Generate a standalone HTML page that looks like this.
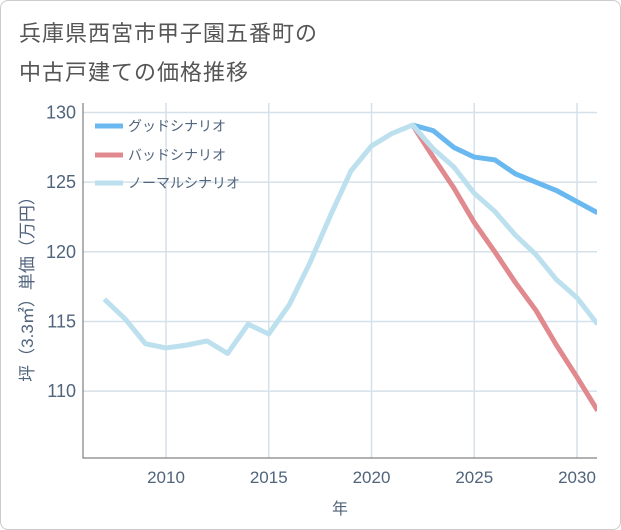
<!DOCTYPE html>
<html><head><meta charset="utf-8"><style>
body{margin:0;background:#fff;font-family:"Liberation Sans","Noto Sans CJK JP",sans-serif;}
#wrap{position:relative;width:619px;height:528px;border:1px solid #ccc;border-radius:8px;overflow:hidden;}
.t{position:absolute;left:18px;font-size:22px;color:#555;letter-spacing:1px;}
</style></head><body>
<div id="wrap">
<div class="t" style="top:15px">兵庫県西宮市甲子園五番町の</div>
<div class="t" style="top:54px">中古戸建ての価格推移</div>
<svg id="svg" width="621" height="530" style="position:absolute;left:-1px;top:-1px"></svg>
</div>
<script>
const years=[2007,2008,2009,2010,2011,2012,2013,2014,2015,2016,2017,2018,2019,2020,2021,2022,2023,2024,2025,2026,2027,2028,2029,2030,2031];
const normal=[116.6,115.2,113.4,113.1,113.3,113.6,112.7,114.8,114.1,116.2,119.2,122.6,125.8,127.6,128.5,129.1,127.4,126.1,124.2,122.9,121.2,119.8,118.0,116.7,114.8];
const goodYears=[2022,2023,2024,2025,2026,2027,2028,2029,2030,2031];
const good=[129.1,128.7,127.5,126.8,126.6,125.6,125.0,124.4,123.6,122.8];
const bad=[129.1,126.8,124.6,122.1,120.0,117.8,115.8,113.3,111.0,108.6];
const xTicks=[2010,2015,2020,2025,2030];
const yTicks=[110,115,120,125,130];
const L=83,R=597,T=103,B=458;
const x=v=>166+(v-2010)*20.55;
const y=v=>112.5+(130-v)*13.93;
const svg=document.getElementById('svg');
const NS='http://www.w3.org/2000/svg';
function mk(t,a){const e=document.createElementNS(NS,t);for(const k in a)e.setAttribute(k,a[k]);svg.appendChild(e);return e;}
const clip=mk('clipPath',{id:'c'});const cr=document.createElementNS(NS,'rect');cr.setAttribute('x',L);cr.setAttribute('y',T);cr.setAttribute('width',R-L);cr.setAttribute('height',B-T);clip.appendChild(cr);
xTicks.forEach(v=>{
 const g=mk('line',{x1:x(v),x2:x(v),y1:T,y2:B,stroke:'#d5e1ea','stroke-width':1.5});
 
 const t=mk('text',{x:x(v),y:483,'text-anchor':'middle','font-size':17,fill:'#50647c'});t.textContent=v;
 
});
yTicks.forEach(v=>{
 const g=mk('line',{x1:L,x2:R,y1:y(v),y2:y(v),stroke:'#d5e1ea','stroke-width':1.5});
 
 const t=mk('text',{x:76,y:y(v)+6,'text-anchor':'end','font-size':18,fill:'#50647c'});t.textContent=v;
 
});
const ax=mk('path',{d:`M${L} ${T}V${B}H${R}`,stroke:'#666',fill:'none','stroke-width':1});

function line(xs,vs,col,name){const p=mk('polyline',{points:xs.map((v,i)=>x(v)+','+y(vs[i])).join(' '),fill:'none',stroke:col,'stroke-width':5,'stroke-linejoin':'round','clip-path':'url(#c)'});
 }
line(goodYears,good,'#6ab8f0','good-scenario-line');
line(goodYears,bad,'#e08a90','bad-scenario-line');
line(years,normal,'#bde0ee','normal-scenario-line');
[['グッドシナリオ','#6ab8f0',126],['バッドシナリオ','#e08a90',155],['ノーマルシナリオ','#bde0ee',183]].forEach(([n,c,yy])=>{
 const s=mk('line',{x1:95,x2:123,y1:yy,y2:yy,stroke:c,'stroke-width':5});
 
 const t=mk('text',{x:128,y:yy+5,'font-size':14,fill:'#50647c'});t.textContent=n;
 
});
const xt=mk('text',{x:340,y:514,'text-anchor':'middle','font-size':16,fill:'#50647c'});xt.textContent='年';

const yt=mk('text',{x:0,y:0,'text-anchor':'middle','font-size':17,fill:'#50647c',transform:'translate(33,285) rotate(-90)'});yt.textContent='坪（3.3㎡）単価（万円）';

</script>
</body></html>
